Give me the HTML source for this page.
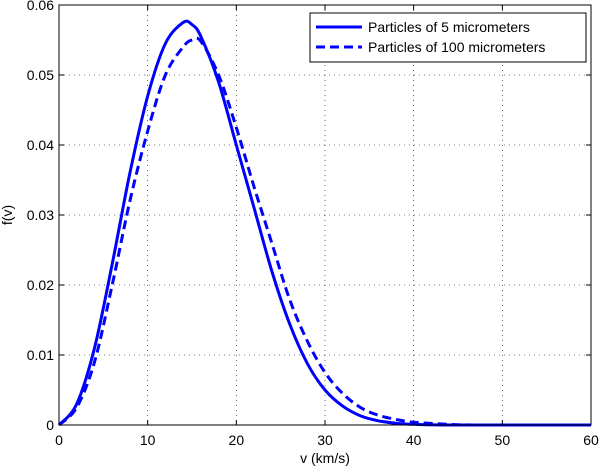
<!DOCTYPE html>
<html><head><meta charset="utf-8"><style>
body{margin:0;background:#fff;}
svg{display:block;font-family:"Liberation Sans",Helvetica,sans-serif;}
</style></head><body>
<svg id="c" width="601" height="467">
<rect x="0" y="0" width="601" height="467" fill="#fff"/>
<g id="grid"></g>
<g id="series"></g>
<rect x="59" y="5" width="532" height="420" fill="none" stroke="#000" stroke-width="1"/>
<g id="ticks"></g>
<text x="325" y="463" font-size="14" text-anchor="middle">v (km/s)</text>
<text x="12" y="215" font-size="14" text-anchor="middle" transform="rotate(-90 12 215)">f(v)</text>
<g>
<rect x="310" y="13" width="276" height="49" fill="#fff" stroke="#000"/>
<line x1="316" y1="27" x2="362" y2="27" stroke="#0000ff" stroke-width="3"/>
<text x="368" y="32" font-size="14">Particles of 5 micrometers</text>
<line x1="316" y1="47" x2="362" y2="47" stroke="#0000ff" stroke-width="3" stroke-dasharray="9,5"/>
<text x="368" y="52" font-size="14">Particles of 100 micrometers</text>
</g>
</svg>
<script>
const xTicks=[0,10,20,30,40,50,60];
const yTicks=[0,0.01,0.02,0.03,0.04,0.05,0.06];
const yTickLabels=["0","0.01","0.02","0.03","0.04","0.05","0.06"];
const v1=[0,2,4,6,8,10,12,14,15,16,18,20,22,24,26,28,30,32,34,36,38,40,45,60];
const f1=[0,0.003,0.011,0.023,0.036,0.047,0.0545,0.0575,0.0572,0.0555,0.049,0.040,0.031,0.022,0.0145,0.0088,0.005,0.0027,0.0013,0.0006,0.00025,0.0001,0,0];
const v2=[0,2,4,6,8,10,12,14,15,16,18,20,22,24,26,28,30,32,34,36,38,40,44,48,60];
const f2=[0,0.0025,0.009,0.020,0.032,0.042,0.050,0.054,0.055,0.0548,0.050,0.0425,0.034,0.026,0.018,0.012,0.0075,0.0045,0.0025,0.0014,0.0008,0.0004,0.0001,0,0];
const X0=59,X1=591,Y0=425,Y1=5;
const sx=v=>X0+(v-0)/(60-0)*(X1-X0);
const sy=f=>Y0-(f-0)/(0.06-0)*(Y0-Y1);
const NS="http://www.w3.org/2000/svg";
function mk(t,a,p){const e=document.createElementNS(NS,t);for(const k in a)e.setAttribute(k,a[k]);p.appendChild(e);return e;}
const grid=document.getElementById('grid'),ticks=document.getElementById('ticks'),ser=document.getElementById('series');
xTicks.forEach((t,i)=>{
  const x=sx(t);
  if(i>0&&i<xTicks.length-1){const g=mk('line',{x1:x,y1:Y1,x2:x,y2:Y0,stroke:'#000','stroke-width':0.6,'stroke-dasharray':'1,4'},grid);
  
  
  const m1=mk('line',{x1:x,y1:Y0,x2:x,y2:Y0-5,stroke:'#000'},ticks);
  
  
  const m2=mk('line',{x1:x,y1:Y1,x2:x,y2:Y1+5,stroke:'#000'},ticks);
  
  }
  const tx=mk('text',{x:x,y:445,'font-size':14,'text-anchor':'middle'},ticks);tx.textContent=t;
  
  
});
yTicks.forEach((t,i)=>{
  const y=sy(t);
  if(i>0&&i<yTicks.length-1){const g=mk('line',{x1:X0,y1:y,x2:X1,y2:y,stroke:'#000','stroke-width':0.6,'stroke-dasharray':'1,4'},grid);
  
  
  const m1=mk('line',{x1:X0,y1:y,x2:X0+5,y2:y,stroke:'#000'},ticks);
  
  
  const m2=mk('line',{x1:X1,y1:y,x2:X1-5,y2:y,stroke:'#000'},ticks);
  
  }
  const tx=mk('text',{x:54,y:y+5,'font-size':14,'text-anchor':'end'},ticks);tx.textContent=yTickLabels[i];
  
  
});
function line(vs,fs,dash,name){
  const P=vs.map((v,i)=>[sx(v),sy(fs[i])]);
  let d='M'+P[0][0].toFixed(1)+','+P[0][1].toFixed(1);
  for(let i=0;i<P.length-1;i++){
    const p0=P[Math.max(0,i-1)],p1=P[i],p2=P[i+1],p3=P[Math.min(P.length-1,i+2)];
    const c1=[p1[0]+(p2[0]-p0[0])/6,p1[1]+(p2[1]-p0[1])/6];
    const c2=[p2[0]-(p3[0]-p1[0])/6,p2[1]-(p3[1]-p1[1])/6];
    d+=' C'+c1.map(n=>n.toFixed(1)).join(',')+' '+c2.map(n=>n.toFixed(1)).join(',')+' '+p2.map(n=>n.toFixed(1)).join(',');
  }
  const p=mk('path',{d:d,fill:'none',stroke:'#0000ff','stroke-width':3,'stroke-linejoin':'round'},ser);
  if(dash)p.setAttribute('stroke-dasharray',dash);
  
  
}
line(v1,f1,null,'line-5-micrometers');
line(v2,f2,'9,5','line-100-micrometers');
</script>
</body></html>
